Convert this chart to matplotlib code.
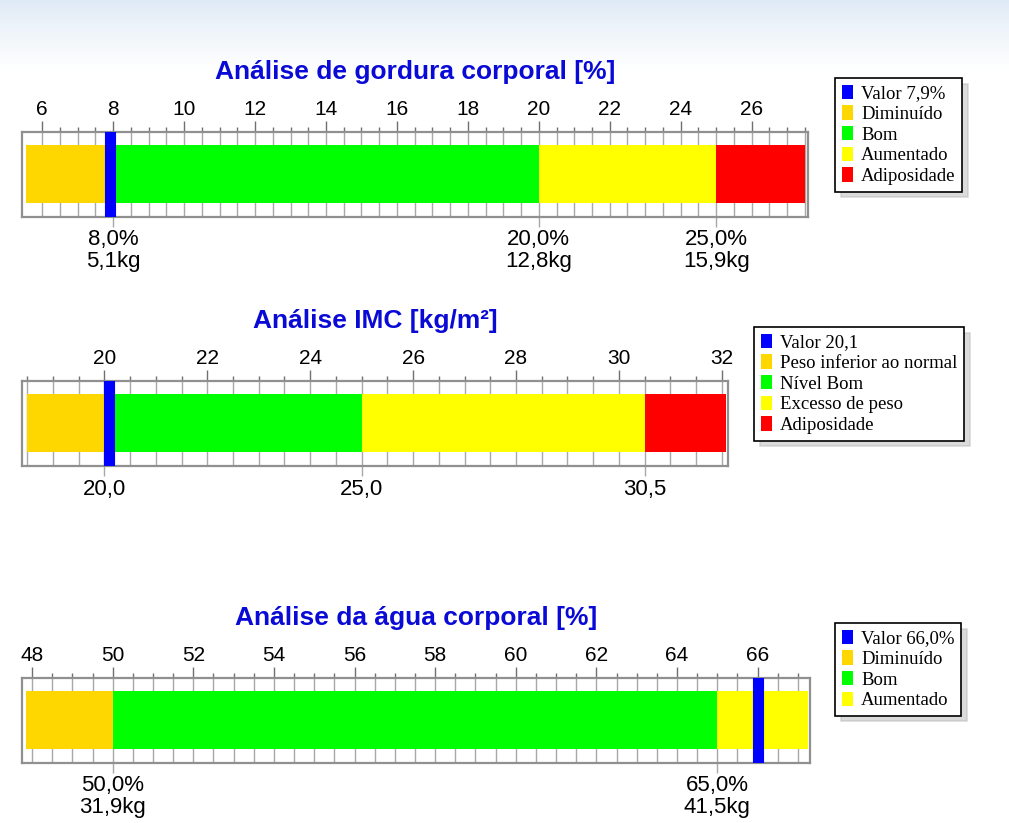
import numpy as np
import matplotlib
matplotlib.use('Agg')
import matplotlib.pyplot as plt
from matplotlib.patches import Patch

# Gordura corporal [%]
gordura_limites = [5.55, 8, 20, 25, 27.5]
gordura_cores = ['#FFD700', '#00FF00', '#FFFF00', '#FF0000']
gordura_nomes = ['Diminuído', 'Bom', 'Aumentado', 'Adiposidade']
gordura_valor = 7.9
gordura_legenda_valor = 'Valor 7,9%'
gordura_marcas = [8, 20, 25]
gordura_rotulos = ['8,0%\n5,1kg', '20,0%\n12,8kg', '25,0%\n15,9kg']

# IMC [kg/m²]
imc_limites = [18.5, 20, 25, 30.5, 32.08]
imc_cores = ['#FFD700', '#00FF00', '#FFFF00', '#FF0000']
imc_nomes = ['Peso inferior ao normal', 'Nível Bom', 'Excesso de peso', 'Adiposidade']
imc_valor = 20.1
imc_legenda_valor = 'Valor 20,1'
imc_marcas = [20, 25, 30.5]
imc_rotulos = ['20,0', '25,0', '30,5']

# Água corporal [%]
agua_limites = [47.85, 50, 65, 67.25]
agua_cores = ['#FFD700', '#00FF00', '#FFFF00']
agua_nomes = ['Diminuído', 'Bom', 'Aumentado']
agua_valor = 66.0
agua_legenda_valor = 'Valor 66,0%'
agua_marcas = [50, 65]
agua_rotulos = ['50,0%\n31,9kg', '65,0%\n41,5kg']

W, H = 1009, 823
fig = plt.figure(figsize=(W / 100, H / 100), dpi=100)

# fundo com degradê azul claro no topo
bg = fig.add_axes([0, 0, 1, 1], zorder=-10)
grad = np.ones((H, 1, 3))
topo = np.array([0.87, 0.915, 0.96])
n = 70
for i in range(n):
    t = (i / n) ** 0.8
    grad[i, 0, :] = topo * (1 - t) + np.array([1, 1, 1]) * t
bg.imshow(grad, aspect='auto', extent=[0, 1, 0, 1])
bg.axis('off')

AZUL = '#0000FF'
TITULO = '#0a0ad6'


def painel(px, titulo, limites, cores, nomes, valor, leg_valor, marcas, rotulos,
           xlim, maiores, menores_ini, menores_fim, leg_pos):
    x0, y0, x1, y1 = px
    ax = fig.add_axes([x0 / W, 1 - y1 / H, (x1 - x0) / W, (y1 - y0) / H])
    ax.set_xlim(*xlim)
    ax.set_ylim(0, 1)
    ax.set_yticks([])

    for i, c in enumerate(cores):
        ax.barh(0.51, limites[i + 1] - limites[i], left=limites[i], height=0.68,
                color=c, edgecolor='none', zorder=2)
    ax.axvline(valor, color=AZUL, lw=8, zorder=3)

    ax.xaxis.tick_top()
    ax.set_xticks(maiores)
    ax.set_xticks(np.arange(menores_ini, menores_fim + 0.01, 0.5), minor=True)
    ax.set_xticklabels([str(v) for v in maiores])
    ax.tick_params(axis='x', which='major', length=8, width=1, color='#707070',
                   labelsize=15, pad=1.5, labelfontfamily='Liberation Sans')
    ax.tick_params(axis='x', which='minor', length=3.5, width=1, color='#707070')
    ax.grid(axis='x', which='both', color='#a8a8a8', lw=1)
    ax.set_axisbelow(True)
    for s in ax.spines.values():
        s.set_color('#909090')
        s.set_linewidth(1.6)

    sec = ax.secondary_xaxis('bottom')
    sec.set_xticks(marcas, rotulos)
    sec.spines['bottom'].set_visible(False)
    sec.tick_params(length=7.5, width=1, color='#a8a8a8', labelsize=16, pad=1.5,
                    labelfontfamily='Liberation Sans')
    for t in sec.get_xticklabels():
        t.set_linespacing(1.05)

    ax.text(0.5, 1 + 60 / (y1 - y0), titulo, transform=ax.transAxes, ha='center',
            va='center', fontsize=19, fontweight='bold', color=TITULO,
            family='Liberation Sans')

    handles = [Patch(facecolor=AZUL, label=leg_valor)]
    handles += [Patch(facecolor=c, label=n) for c, n in zip(cores, nomes)]
    leg = fig.legend(handles=handles, loc='upper left',
                     bbox_to_anchor=(leg_pos[0] / W, 1 - leg_pos[1] / H),
                     prop={'family': 'Liberation Serif', 'size': 13.5},
                     frameon=True, fancybox=False, edgecolor='black',
                     shadow={'color': '#b8b8b8', 'ox': 4, 'oy': -4},
                     handlelength=0.6, handleheight=0.8, handletextpad=0.45,
                     labelspacing=0.16, borderpad=0.35, borderaxespad=0)
    leg.get_frame().set_linewidth(1.2)
    return ax


painel((22, 132, 808, 217), 'Análise de gordura corporal [%]', gordura_limites,
       gordura_cores, gordura_nomes, gordura_valor, gordura_legenda_valor,
       gordura_marcas, gordura_rotulos, (5.43, 27.59), np.arange(6, 27, 2),
       6, 27.5, (835, 78))

painel((22, 381, 728, 466), 'Análise IMC [kg/m²]', imc_limites, imc_cores,
       imc_nomes, imc_valor, imc_legenda_valor, imc_marcas, imc_rotulos,
       (18.4, 32.12), np.arange(20, 33, 2), 18.5, 32, (754, 327))

painel((22, 678, 810, 763), 'Análise da água corporal [%]', agua_limites,
       agua_cores, agua_nomes, agua_valor, agua_legenda_valor, agua_marcas,
       agua_rotulos, (47.75, 67.3), np.arange(48, 67, 2), 48, 67, (835, 623))

fig.savefig('out.png', dpi=100)
